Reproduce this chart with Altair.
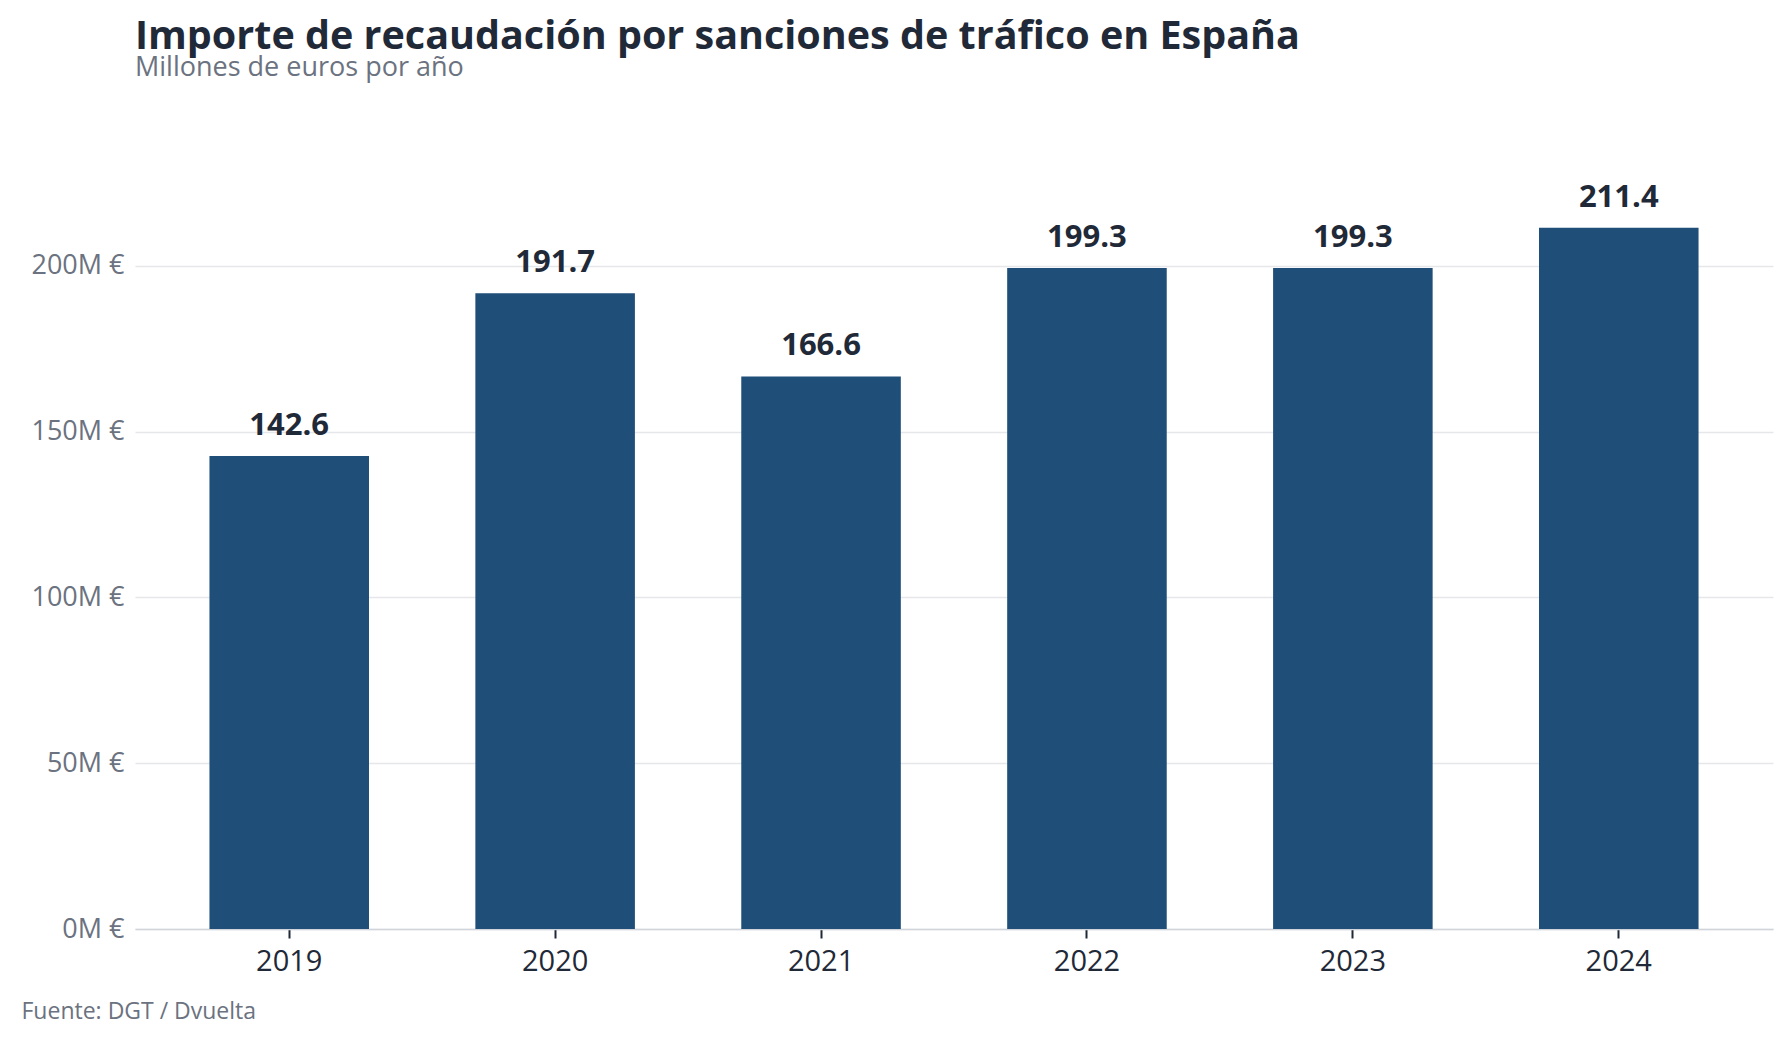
import altair as alt
import pandas as pd

years = ["2019", "2020", "2021", "2022", "2023", "2024"]
values = [142.6, 191.7, 166.6, 199.3, 199.3, 211.4]
labels = ["142.6", "191.7", "166.6", "199.3", "199.3", "211.4"]
y_ticks = [0, 50, 100, 150, 200]

df = pd.DataFrame({"year": years, "value": values, "label": labels})

FONT = "Open Sans"
DARK = "#1f2937"
GRAY = "#6b7280"
BAR = "#1f4e79"

x_enc = alt.X(
    "year:N",
    sort=years,
    scale=alt.Scale(paddingInner=0.4, paddingOuter=0.28),
    axis=alt.Axis(
        title="Fuente: DGT / Dvuelta",
        titleX=-114,
        titleY=89,
        titleAlign="left",
        titleAnchor="start",
        titleBaseline="alphabetic",
        titleFont=FONT,
        titleFontSize=23,
        titleFontWeight="normal",
        titleColor=GRAY,
        labelAngle=0,
        labelFont=FONT,
        labelFontSize=29,
        labelColor=DARK,
        labelPadding=9,
        tickSize=9,
        tickWidth=2,
        tickColor=DARK,
        domainColor="#d1d5db",
        domainWidth=1.5,
        grid=False,
    ),
)

y_enc = alt.Y(
    "value:Q",
    scale=alt.Scale(domain=[0, 240], nice=False),
    axis=alt.Axis(
        title=None,
        values=y_ticks,
        labelExpr="datum.value + 'M €'",
        labelFont=FONT,
        labelFontSize=27,
        labelColor=GRAY,
        labelPadding=11,
        ticks=False,
        domain=False,
        grid=True,
        gridColor="#e5e7eb",
        gridWidth=1.5,
    ),
)

bars = alt.Chart(df).mark_bar(color=BAR).encode(x=x_enc, y=y_enc)

text = alt.Chart(df).mark_text(
    font=FONT,
    fontSize=31,
    fontWeight="bold",
    color=DARK,
    baseline="alphabetic",
    dy=-21,
).encode(x=alt.X("year:N", sort=years), y="value:Q", text="label:N")

chart = (
    alt.layer(bars, text)
    .properties(
        width=1638,
        height=796,
        autosize=alt.AutoSizeParams(type="none"),
        padding={"left": 127, "top": 125, "right": 10, "bottom": 105},
        title=alt.TitleParams(
            text="Importe de recaudación por sanciones de tráfico en España",
            subtitle="Millones de euros por año",
            anchor="start",
            frame="group",
            font=FONT,
            fontSize=39.5,
            fontWeight="bold",
            color=DARK,
            subtitleFont=FONT,
            subtitleFontSize=27,
            subtitleColor=GRAY,
            subtitlePadding=-2,
            offset=51,
        ),
    )
    .configure(background="white")
    .configure_view(strokeWidth=0, stroke="transparent")
)

chart.save("out.html", embed_options={"renderer": "svg", "actions": False})
